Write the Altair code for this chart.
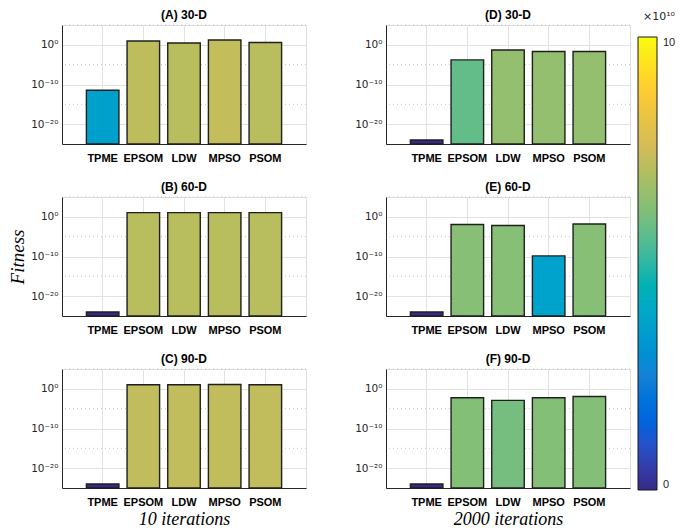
import altair as alt
import pandas as pd

methods = ["TPME", "EPSOM", "LDW", "MPSO", "PSOM"]
panel_titles = ["(A) 30-D", "(B) 60-D", "(C) 90-D", "(D) 30-D", "(E) 60-D", "(F) 90-D"]

# fitness values
fit_A = [3.5e-12, 9.3, 3.0, 16.0, 3.8]
fit_B = [1e-24, 11.5, 11.5, 11.8, 11.5]
fit_C = [1e-24, 11.0, 11.0, 12.6, 11.0]
fit_D = [1e-24, 1.6e-4, 5.1e-2, 2.0e-2, 2.0e-2]
fit_E = [1e-24, 1.15e-2, 6.3e-3, 1.4e-10, 1.6e-2]
fit_F = [1e-24, 5.5e-3, 1.26e-3, 5.5e-3, 1.15e-2]

# colour level of each bar on the colour bar (0 .. 10, x10^10)
lev_A = [3.6, 7.2, 7.1, 7.3, 7.1]
lev_B = [0.0, 7.1, 7.1, 7.1, 7.1]
lev_C = [0.0, 7.25, 7.25, 7.25, 7.25]
lev_D = [0.0, 5.7, 6.5, 6.5, 6.5]
lev_E = [0.0, 6.25, 6.25, 3.7, 6.25]
lev_F = [0.0, 6.2, 6.0, 6.2, 6.2]

major_ticks = [1e-20, 1e-10, 1e0]
major_labels = ["10\u207b\u00b2\u2070", "10\u207b\u00b9\u2070", "10\u2070"]
minor_ticks = [1e5, 1e-5, 1e-15]
y_domain = [1e-25, 1e5]

cbar_stops = [0, 1.25, 2.5, 3.75, 5, 6.25, 7.5, 8.75, 10]
parula = ["#352a87", "#0f5cdd", "#1481d6", "#06a4ca", "#2eb7a4",
          "#87bf77", "#d1bb59", "#fec832", "#f9fb0e"]

FONT = "Liberation Sans"
SUPFONT = "DejaVu Sans"
SERIF = "Liberation Serif"
W, H = 244, 119

label_expr = (f"datum.value < 1e-15 ? '{major_labels[0]}' : "
              f"datum.value < 1e-5 ? '{major_labels[1]}' : '{major_labels[2]}'")

yscale = alt.Scale(type="log", domain=y_domain, nice=False, clamp=True)
cscale = alt.Scale(domain=cbar_stops, range=parula)

legend = alt.Legend(
    orient="none", legendX=576, legendY=-14, padding=0,
    title="\u00d710\u00b9\u2070", titleFontWeight="normal", titleFontSize=11,
    titleFont=SUPFONT, titleAnchor="end", titlePadding=15, titleColor="#262626",
    gradientLength=453, gradientThickness=19,
    gradientStrokeColor="#1a1a1a", gradientStrokeWidth=1,
    values=[0, 10], labelFontSize=11, labelFont=FONT, labelBaseline="middle",
    labelOffset=6, direction="vertical", labelColor="#262626",
)


def y_axis(ytitle):
    kw = dict(values=major_ticks, labelExpr=label_expr, grid=True,
              gridColor="#e2e2e2", ticks=False, labelPadding=4,
              labelFontSize=10.5, labelFont=SUPFONT, labelColor="#262626",
              domainColor="#262626")
    if ytitle:
        kw.update(title=ytitle, titleFont=SERIF, titleFontStyle="italic",
                  titleFontWeight="normal", titleFontSize=19,
                  titlePadding=3, titleColor="black")
    else:
        kw.update(title=None)
    return alt.Axis(**kw)


def panel(title, fit, lev, ytitle=None, xtitle=None):
    df = pd.DataFrame({"method": methods, "fitness": fit, "level": lev})
    minor = alt.Chart(pd.DataFrame({"fitness": minor_ticks})).mark_rule(
        color="#c4c4c4", strokeDash=[1, 3], strokeWidth=1
    ).encode(y=alt.Y("fitness:Q", scale=yscale, axis=y_axis(ytitle)))

    xaxis_kw = dict(labelAngle=0, labelFont=FONT, labelFontWeight="bold",
                    labelFontSize=11, labelColor="black", labelPadding=8,
                    ticks=False, grid=True, gridColor="#e2e2e2",
                    bandPosition=0.5, domainColor="#262626")
    if xtitle:
        xaxis_kw.update(title=xtitle, titleFont=SERIF, titleFontStyle="italic",
                        titleFontWeight="normal", titleFontSize=18,
                        titlePadding=3, titleColor="black")
    else:
        xaxis_kw.update(title=None)

    bars = alt.Chart(df).mark_bar(stroke="#1f1f1f", strokeWidth=1.4).encode(
        x=alt.X("method:N", sort=methods,
                scale=alt.Scale(paddingInner=0.2, paddingOuter=0.6),
                axis=alt.Axis(**xaxis_kw)),
        y=alt.Y("fitness:Q", scale=yscale, axis=y_axis(ytitle)),
        color=alt.Color("level:Q", scale=cscale, legend=legend),
    )
    return alt.layer(minor, bars).properties(
        width=W, height=H,
        title=alt.TitleParams(title, font=FONT, fontSize=12, fontWeight="bold",
                              offset=3, color="black"),
    )


left = alt.vconcat(
    panel(panel_titles[0], fit_A, lev_A),
    panel(panel_titles[1], fit_B, lev_B, ytitle="Fitness"),
    panel(panel_titles[2], fit_C, lev_C, xtitle="10 iterations"),
    spacing=16,
)
right = alt.vconcat(
    panel(panel_titles[3], fit_D, lev_D),
    panel(panel_titles[4], fit_E, lev_E),
    panel(panel_titles[5], fit_F, lev_F, xtitle="2000 iterations"),
    spacing=16,
)

chart = alt.hconcat(left, right, spacing=47).properties(padding=0).configure_view(
    stroke=None
).configure(background="white")

chart.save("out.html", embed_options={"renderer": "svg", "actions": False})
